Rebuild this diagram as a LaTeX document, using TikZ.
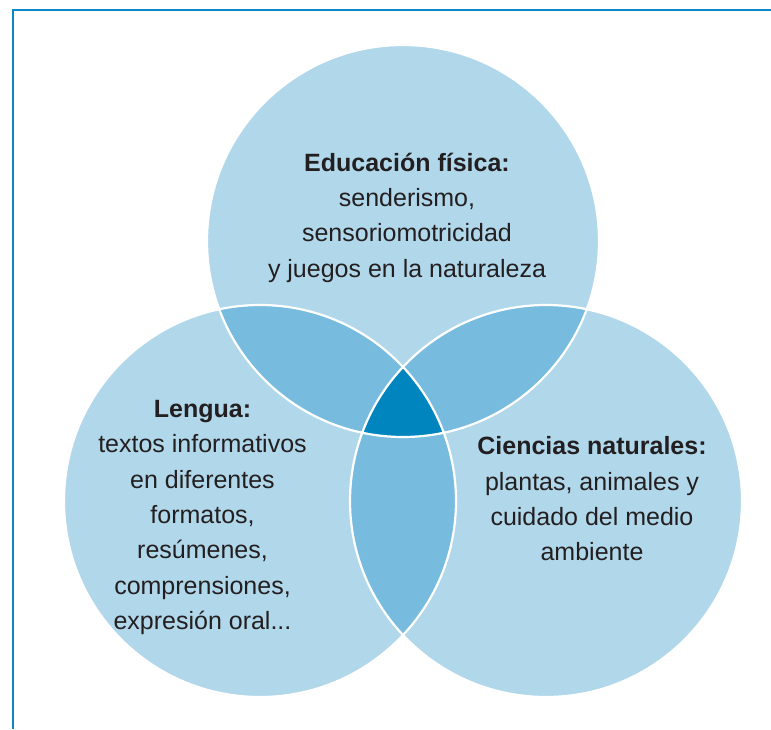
\documentclass[tikz,border=0pt]{standalone}
\usepackage{fontspec}
\setmainfont{Liberation Sans}
\definecolor{light}{HTML}{B1D7EB}
\definecolor{mid}{HTML}{77BCDE}
\definecolor{dark}{HTML}{0085BF}
\definecolor{frame}{HTML}{0A88C8}
\definecolor{txt}{HTML}{231F20}
\tikzset{
  lbl/.style={align=center, text=txt, font=\fontsize{25}{35.3}\selectfont, inner sep=0pt},
  edge/.style={draw=white, line width=2.2pt},
}
\begin{document}
\begin{tikzpicture}[x=1pt,y=-1pt]
\useasboundingbox (0,0) rectangle (771,729);
\fill[white] (0,0) rectangle (771,729);
\coordinate (T) at (403,241);
\coordinate (L) at (260,501);
\coordinate (R) at (546,501);
\def\rr{196}
% base fills
\fill[light] (T) circle (\rr);
\fill[light] (L) circle (\rr);
\fill[light] (R) circle (\rr);
% pairwise
\begin{scope}\clip (T) circle (\rr); \fill[mid] (L) circle (\rr); \end{scope}
\begin{scope}\clip (T) circle (\rr); \fill[mid] (R) circle (\rr); \end{scope}
\begin{scope}\clip (L) circle (\rr); \fill[mid] (R) circle (\rr); \end{scope}
% triple
\begin{scope}\clip (T) circle (\rr); \clip (L) circle (\rr); \fill[dark] (R) circle (\rr); \end{scope}
% outlines
\draw[edge] (T) circle (\rr);
\draw[edge] (L) circle (\rr);
\draw[edge] (R) circle (\rr);
% frame
\draw[frame, line width=2pt] (12.5,729) -- (12.5,9.5) -- (771,9.5);
% texts
\node[lbl] (ef) at (407,217.5) {\textbf{Educación física:}\\senderismo,\\sensoriomotricidad\\y juegos en la naturaleza};
\node[lbl] (le) at (202.5,517.5) {\textbf{Lengua:}\\textos informativos\\en diferentes\\formatos,\\resúmenes,\\comprensiones,\\expresión oral...};
\node[lbl] (cn) at (592,499) {\textbf{Ciencias naturales:}\\plantas, animales y\\cuidado del medio\\ambiente};
\end{tikzpicture}
\end{document}
